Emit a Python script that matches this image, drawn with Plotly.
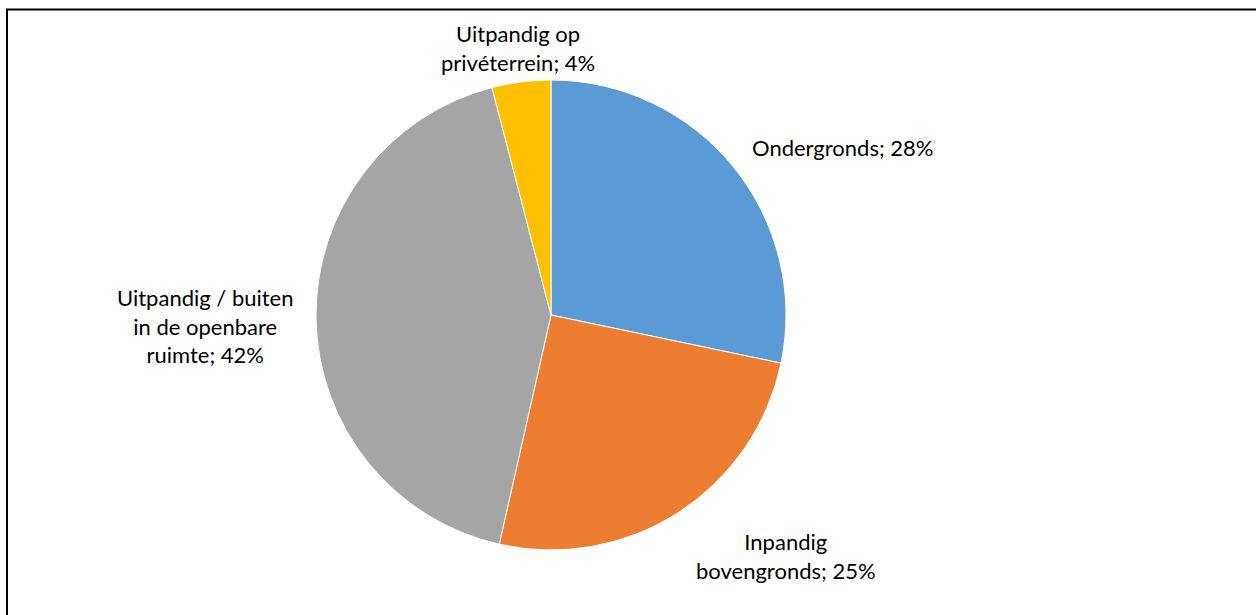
import plotly.graph_objects as go

# Share of parking places by location type
categories = [
    "Ondergronds",
    "Inpandig bovengronds",
    "Uitpandig / buiten in de openbare ruimte",
    "Uitpandig op privéterrein",
]
values = [28, 25, 42, 4]
label_lines = [
    ["Ondergronds"],
    ["Inpandig", "bovengronds"],
    ["Uitpandig / buiten", "in de openbare", "ruimte"],
    ["Uitpandig op", "privéterrein"],
]
colors = ["#5B9BD5", "#ED7D31", "#A5A5A5", "#FFC000"]

W, H = 1256, 615
FONT = "Lato"

fig = go.Figure(
    go.Pie(
        labels=categories,
        values=values,
        sort=False,
        direction="clockwise",
        rotation=0,
        marker=dict(colors=colors, line=dict(color="white", width=1)),
        textinfo="none",
        hoverinfo="label+percent",
        showlegend=False,
        domain=dict(x=[316 / W, 786 / W], y=[1 - 550 / H, 1 - 80 / H]),
    )
)

# label anchor points (pixels) placed around the pie
label_pos = [(843, 147), (786, 556), (205, 326), (518, 48)]

for lines, val, (px, py) in zip(label_lines, values, label_pos):
    text = "<br>".join(lines[:-1] + [f"{lines[-1]}; {val}%"])
    fig.add_annotation(
        x=px / W, y=1 - py / H, xref="paper", yref="paper",
        text=text, showarrow=False, align="center",
        xanchor="center", yanchor="middle",
        font=dict(family=FONT, size=22, color="#000000"),
    )

# chart frame
fig.add_shape(
    type="rect", xref="paper", yref="paper",
    x0=7 / W, x1=1.05, y0=-0.05, y1=1 - 9.5 / H,
    line=dict(color="black", width=2), fillcolor="rgba(0,0,0,0)",
)

fig.update_layout(
    width=W, height=H,
    margin=dict(l=0, r=0, t=0, b=0),
    paper_bgcolor="white", plot_bgcolor="white",
    font=dict(family=FONT),
)

fig.write_html("out.html")
